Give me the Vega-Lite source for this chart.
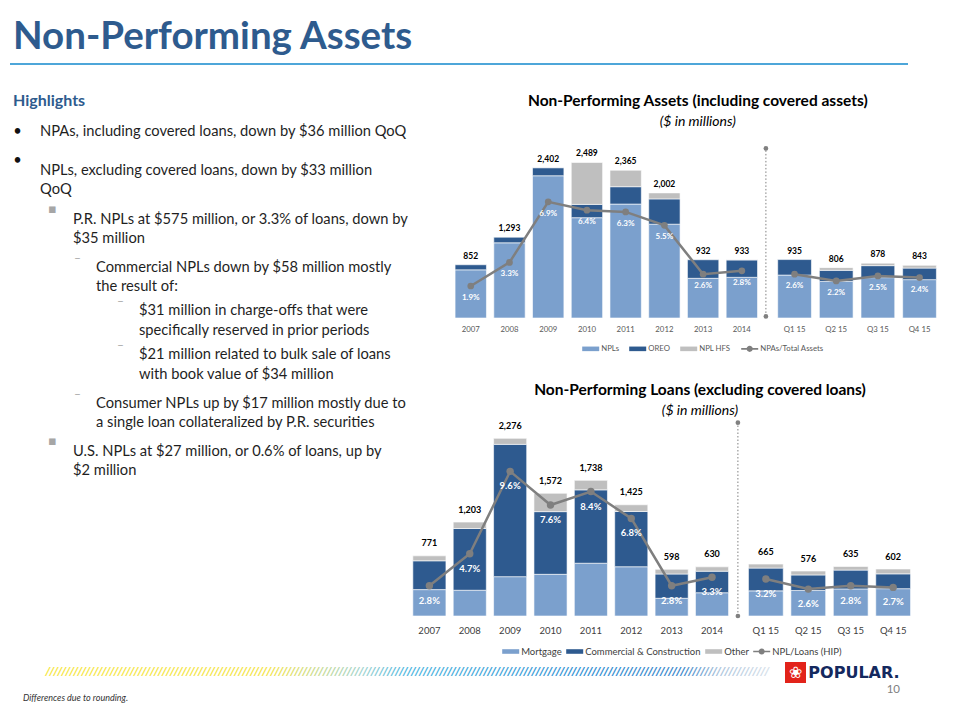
{
  "$schema": "https://vega.github.io/schema/vega-lite/v6.json",
  "background": "white",
  "padding": {"left": 10, "top": 0, "right": 5, "bottom": 0},
  "config": {
    "view": {"stroke": null},
    "font": "Lato",
    "legend": {"layout": {"bottom": {"anchor": "middle"}}}
  },
  "datasets": {
    "npa": [
      {"p": "2007", "s": "NPLs", "k": 1, "v": 771}, {"p": "2007", "s": "OREO", "k": 2, "v": 81},
      {"p": "2008", "s": "NPLs", "k": 1, "v": 1203}, {"p": "2008", "s": "OREO", "k": 2, "v": 90},
      {"p": "2009", "s": "NPLs", "k": 1, "v": 2276}, {"p": "2009", "s": "OREO", "k": 2, "v": 126},
      {"p": "2010", "s": "NPLs", "k": 1, "v": 1605}, {"p": "2010", "s": "OREO", "k": 2, "v": 213}, {"p": "2010", "s": "NPL HFS", "k": 3, "v": 671},
      {"p": "2011", "s": "NPLs", "k": 1, "v": 1823}, {"p": "2011", "s": "OREO", "k": 2, "v": 278}, {"p": "2011", "s": "NPL HFS", "k": 3, "v": 264},
      {"p": "2012", "s": "NPLs", "k": 1, "v": 1501}, {"p": "2012", "s": "OREO", "k": 2, "v": 405}, {"p": "2012", "s": "NPL HFS", "k": 3, "v": 96},
      {"p": "2013", "s": "NPLs", "k": 1, "v": 635}, {"p": "2013", "s": "OREO", "k": 2, "v": 297},
      {"p": "2014", "s": "NPLs", "k": 1, "v": 651}, {"p": "2014", "s": "OREO", "k": 2, "v": 279}, {"p": "2014", "s": "NPL HFS", "k": 3, "v": 3},
      {"p": "Q1 15", "s": "NPLs", "k": 1, "v": 687}, {"p": "Q1 15", "s": "OREO", "k": 2, "v": 248},
      {"p": "Q2 15", "s": "NPLs", "k": 1, "v": 585}, {"p": "Q2 15", "s": "OREO", "k": 2, "v": 178}, {"p": "Q2 15", "s": "NPL HFS", "k": 3, "v": 43},
      {"p": "Q3 15", "s": "NPLs", "k": 1, "v": 646}, {"p": "Q3 15", "s": "OREO", "k": 2, "v": 192}, {"p": "Q3 15", "s": "NPL HFS", "k": 3, "v": 40},
      {"p": "Q4 15", "s": "NPLs", "k": 1, "v": 614}, {"p": "Q4 15", "s": "OREO", "k": 2, "v": 185}, {"p": "Q4 15", "s": "NPL HFS", "k": 3, "v": 44}
    ],
    "npaPct": [
      {"p": "2007", "pct": 0.019}, {"p": "2008", "pct": 0.033}, {"p": "2009", "pct": 0.069}, {"p": "2010", "pct": 0.064},
      {"p": "2011", "pct": 0.063}, {"p": "2012", "pct": 0.055}, {"p": "2013", "pct": 0.026}, {"p": "2014", "pct": 0.028},
      {"p": "Q1 15", "pct": 0.026}, {"p": "Q2 15", "pct": 0.022}, {"p": "Q3 15", "pct": 0.025}, {"p": "Q4 15", "pct": 0.024}
    ],
    "npl": [
      {"p": "2007", "s": "Mortgage", "k": 1, "v": 338}, {"p": "2007", "s": "Commercial & Construction", "k": 2, "v": 369}, {"p": "2007", "s": "Other", "k": 3, "v": 64},
      {"p": "2008", "s": "Mortgage", "k": 1, "v": 330}, {"p": "2008", "s": "Commercial & Construction", "k": 2, "v": 791}, {"p": "2008", "s": "Other", "k": 3, "v": 82},
      {"p": "2009", "s": "Mortgage", "k": 1, "v": 504}, {"p": "2009", "s": "Commercial & Construction", "k": 2, "v": 1695}, {"p": "2009", "s": "Other", "k": 3, "v": 77},
      {"p": "2010", "s": "Mortgage", "k": 1, "v": 534}, {"p": "2010", "s": "Commercial & Construction", "k": 2, "v": 803}, {"p": "2010", "s": "Other", "k": 3, "v": 235},
      {"p": "2011", "s": "Mortgage", "k": 1, "v": 676}, {"p": "2011", "s": "Commercial & Construction", "k": 2, "v": 940}, {"p": "2011", "s": "Other", "k": 3, "v": 122},
      {"p": "2012", "s": "Mortgage", "k": 1, "v": 631}, {"p": "2012", "s": "Commercial & Construction", "k": 2, "v": 708}, {"p": "2012", "s": "Other", "k": 3, "v": 86},
      {"p": "2013", "s": "Mortgage", "k": 1, "v": 227}, {"p": "2013", "s": "Commercial & Construction", "k": 2, "v": 311}, {"p": "2013", "s": "Other", "k": 3, "v": 60},
      {"p": "2014", "s": "Mortgage", "k": 1, "v": 298}, {"p": "2014", "s": "Commercial & Construction", "k": 2, "v": 276}, {"p": "2014", "s": "Other", "k": 3, "v": 56},
      {"p": "Q1 15", "s": "Mortgage", "k": 1, "v": 322}, {"p": "Q1 15", "s": "Commercial & Construction", "k": 2, "v": 292}, {"p": "Q1 15", "s": "Other", "k": 3, "v": 51},
      {"p": "Q2 15", "s": "Mortgage", "k": 1, "v": 327}, {"p": "Q2 15", "s": "Commercial & Construction", "k": 2, "v": 199}, {"p": "Q2 15", "s": "Other", "k": 3, "v": 50},
      {"p": "Q3 15", "s": "Mortgage", "k": 1, "v": 347}, {"p": "Q3 15", "s": "Commercial & Construction", "k": 2, "v": 241}, {"p": "Q3 15", "s": "Other", "k": 3, "v": 47},
      {"p": "Q4 15", "s": "Mortgage", "k": 1, "v": 350}, {"p": "Q4 15", "s": "Commercial & Construction", "k": 2, "v": 190}, {"p": "Q4 15", "s": "Other", "k": 3, "v": 62}
    ],
    "nplPct": [
      {"p": "2007", "pct": 0.028}, {"p": "2008", "pct": 0.047}, {"p": "2009", "pct": 0.096}, {"p": "2010", "pct": 0.076},
      {"p": "2011", "pct": 0.084}, {"p": "2012", "pct": 0.068}, {"p": "2013", "pct": 0.028}, {"p": "2014", "pct": 0.033},
      {"p": "Q1 15", "pct": 0.032}, {"p": "Q2 15", "pct": 0.026}, {"p": "Q3 15", "pct": 0.028}, {"p": "Q4 15", "pct": 0.027}
    ]
  },
  "bounds": "flush",
  "spacing": 662,
  "vconcat": [
    {
      "bounds": "flush",
      "spacing": 23,
      "vconcat": [
        {
          "width": 2, "height": 40,
          "data": {"values": [{}]},
          "layer": [
            {"mark": {"type": "rect", "color": "#FFFFFF"}, "encoding": {}},
            {"mark": {"type": "text", "text": "Non-Performing Assets", "align": "left", "baseline": "alphabetic", "dx": 2, "dy": 28.5, "font": "Lato", "fontSize": 38.5, "fontWeight": "bold", "color": "#2E5B8E"}, "encoding": {}}
          ]
        },
        {
          "width": 898, "height": 2,
          "data": {"values": [{}]},
          "mark": {"type": "rect", "color": "#4DA6D9"},
          "encoding": {}
        },
        {
          "bounds": "flush",
          "spacing": 399.2,
          "hconcat": [
            {
              "bounds": "flush",
              "spacing": 0,
              "vconcat": [
                {
                  "width": 2, "height": 26,
                  "data": {"values": [{"t": "Highlights"}]},
                  "mark": {"type": "text", "align": "left", "baseline": "middle", "dx": 2, "fontSize": 16, "fontWeight": "bold", "color": "#2E5B8E"},
                  "encoding": {"text": {"field": "t"}}
                },
                {
                  "width": 2, "height": 36,
                  "data": {"values": [{"t": "NPAs, including covered loans, down by $36 million QoQ"}]},
                  "layer": [
                    {"mark": {"type": "text", "text": "•", "align": "center", "baseline": "middle", "dx": 6.5, "fontSize": 14.7, "color": "#111111"}, "encoding": {}},
                    {"mark": {"type": "text", "align": "left", "baseline": "middle", "dx": 29, "fontSize": 14.7, "color": "#1F1F1F"}, "encoding": {"text": {"field": "t"}}}
                  ]
                },
                {
                  "width": 2, "height": 41,
                  "data": {"values": [{"t": ["NPLs, excluding  covered  loans, down by $33 million", "QoQ"]}]},
                  "layer": [
                    {"mark": {"type": "text", "text": "•", "align": "center", "baseline": "middle", "dx": 6.5, "dy": -9.75, "fontSize": 14.7, "color": "#111111"}, "encoding": {}},
                    {"mark": {"type": "text", "align": "left", "baseline": "middle", "dx": 29, "fontSize": 14.7, "lineHeight": 19.5, "color": "#1F1F1F"}, "encoding": {"text": {"field": "t"}}}
                  ]
                },
                {
                  "width": 2, "height": 57,
                  "data": {"values": [{"t": ["P.R. NPLs at $575 million, or 3.3% of loans, down by", "$35 million"]}]},
                  "layer": [
                    {"mark": {"type": "text", "text": "▪", "align": "center", "baseline": "middle", "dx": 41.5, "dy": -10.5, "font": "DejaVu Sans", "fontSize": 13, "color": "#A6A6A6"}, "encoding": {}},
                    {"mark": {"type": "text", "align": "left", "baseline": "middle", "dx": 62, "fontSize": 14.7, "lineHeight": 19.5, "color": "#1F1F1F"}, "encoding": {"text": {"field": "t"}}}
                  ]
                },
                {
                  "width": 2, "height": 39,
                  "data": {"values": [{"t": ["Commercial NPLs down by $58 million mostly", "the result of:"]}]},
                  "layer": [
                    {"mark": {"type": "text", "text": "–", "align": "center", "baseline": "middle", "dx": 66.5, "dy": -9.75, "fontSize": 12, "color": "#A6A6A6"}, "encoding": {}},
                    {"mark": {"type": "text", "align": "left", "baseline": "middle", "dx": 85, "fontSize": 14.7, "lineHeight": 19.5, "color": "#1F1F1F"}, "encoding": {"text": {"field": "t"}}}
                  ]
                },
                {
                  "width": 2, "height": 48,
                  "data": {"values": [{"t": ["$31 million in charge-offs that were", "specifically reserved in prior periods"]}]},
                  "layer": [
                    {"mark": {"type": "text", "text": "–", "align": "center", "baseline": "middle", "dx": 109.5, "dy": -9.75, "fontSize": 12, "color": "#A6A6A6"}, "encoding": {}},
                    {"mark": {"type": "text", "align": "left", "baseline": "middle", "dx": 128, "fontSize": 14.7, "lineHeight": 19.5, "color": "#1F1F1F"}, "encoding": {"text": {"field": "t"}}}
                  ]
                },
                {
                  "width": 2, "height": 40,
                  "data": {"values": [{"t": ["$21 million related to bulk sale of loans", "with book value of $34 million"]}]},
                  "layer": [
                    {"mark": {"type": "text", "text": "–", "align": "center", "baseline": "middle", "dx": 109.5, "dy": -9.75, "fontSize": 12, "color": "#A6A6A6"}, "encoding": {}},
                    {"mark": {"type": "text", "align": "left", "baseline": "middle", "dx": 128, "fontSize": 14.7, "lineHeight": 19.5, "color": "#1F1F1F"}, "encoding": {"text": {"field": "t"}}}
                  ]
                },
                {
                  "width": 2, "height": 57,
                  "data": {"values": [{"t": ["Consumer NPLs up by $17 million mostly due to", "a single loan collateralized by P.R. securities"]}]},
                  "layer": [
                    {"mark": {"type": "text", "text": "–", "align": "center", "baseline": "middle", "dx": 66.5, "dy": -9.75, "fontSize": 12, "color": "#A6A6A6"}, "encoding": {}},
                    {"mark": {"type": "text", "align": "left", "baseline": "middle", "dx": 85, "fontSize": 14.7, "lineHeight": 19.5, "color": "#1F1F1F"}, "encoding": {"text": {"field": "t"}}}
                  ]
                },
                {
                  "width": 2, "height": 39,
                  "data": {"values": [{"t": ["U.S. NPLs at $27 million, or 0.6% of loans, up by", "$2 million"]}]},
                  "layer": [
                    {"mark": {"type": "text", "text": "▪", "align": "center", "baseline": "middle", "dx": 41.5, "dy": -10.5, "font": "DejaVu Sans", "fontSize": 13, "color": "#A6A6A6"}, "encoding": {}},
                    {"mark": {"type": "text", "align": "left", "baseline": "middle", "dx": 62, "fontSize": 14.7, "lineHeight": 19.5, "color": "#1F1F1F"}, "encoding": {"text": {"field": "t"}}}
                  ]
                }
              ]
            },
            {
              "bounds": "flush",
              "spacing": 0,
              "resolve": {"scale": {"color": "independent"}, "legend": {"color": "independent"}},
              "vconcat": [
                {"width": 1, "height": 69.7, "data": {"values": []}, "mark": "point", "encoding": {}},
                {
                  "bounds": "flush",
                  "spacing": 0,
                  "resolve": {"scale": {"color": "independent"}, "legend": {"color": "independent"}},
                  "hconcat": [
                    {"width": 41.2, "height": 1, "data": {"values": []}, "mark": "point", "encoding": {}},
                    {
                      "title": {"text": "Non-Performing Assets (including covered assets)", "subtitle": "($ in millions)", "anchor": "middle", "frame": "group", "dx": 246.6, "font": "Lato", "fontSize": 15.5, "fontWeight": "bold", "color": "#000000", "subtitleFont": "Lato", "subtitleFontSize": 14, "subtitleFontStyle": "italic", "subtitleColor": "#000000", "subtitlePadding": 6, "offset": 17},
                      "bounds": "flush",
                      "spacing": 0,
                      "hconcat": [
                        {
                          "width": 310.2, "height": 160,
                          "resolve": {"scale": {"y": "independent"}},
                          "layer": [
                            {
                              "data": {"name": "npa"},
                              "transform": [{"filter": {"field": "p", "oneOf": ["2007", "2008", "2009", "2010", "2011", "2012", "2013", "2014"]}}],
                              "mark": {"type": "bar", "stroke": "#ffffff", "strokeWidth": 0.6},
                              "encoding": {
                                "x": {"field": "p", "type": "nominal", "scale": {"domain": ["2007", "2008", "2009", "2010", "2011", "2012", "2013", "2014"], "paddingInner": 0.19, "paddingOuter": 0.1}, "axis": {"title": null, "domain": false, "ticks": false, "labelAngle": 0, "labelPadding": 7, "labelFontSize": 7.8, "labelColor": "#595959", "labelFont": "Lato"}},
                                "y": {"field": "v", "type": "quantitative", "stack": "zero", "scale": {"domain": [0, 2560], "nice": false}, "axis": null},
                                "color": {
                                  "field": "s", "type": "nominal",
                                  "scale": {"domain": ["NPLs", "OREO", "NPL HFS", "NPAs/Total Assets"], "range": ["#7BA0CD", "#2E5A8F", "#BFBFBF", "#7F7F7F"]},
                                  "legend": {
                                    "title": " ", "titleOrient": "left", "titlePadding": 12, "titleFontSize": 6,
                                    "orient": "bottom", "direction": "horizontal", "offset": 7, "padding": 0,
                                    "labelFont": "Lato", "labelFontSize": 7.8, "labelColor": "#595959", "labelOffset": 2, "columnPadding": 10,
                                    "symbolSize": 289, "symbolStrokeWidth": 0,
                                    "symbolType": {"expr": "indexof(datum.value, '/') >= 0 ? 'M-1,-0.1H1V0.1H-1Z M0.36,0A0.36,0.36,0,1,1,-0.36,0A0.36,0.36,0,1,1,0.36,0Z' : 'M-1,-0.27H1V0.27H-1Z'"}
                                  }
                                },
                                "order": {"field": "k", "type": "quantitative", "sort": "ascending"}
                              }
                            },
                            {
                              "data": {"name": "npa"},
                              "transform": [{"filter": {"field": "p", "oneOf": ["2007", "2008", "2009", "2010", "2011", "2012", "2013", "2014"]}}],
                              "mark": {"type": "text", "fontWeight": "bold", "fontSize": 8.5, "dy": -9, "color": "#000000", "baseline": "middle"},
                              "encoding": {
                                "x": {"field": "p", "type": "nominal"},
                                "y": {"aggregate": "sum", "field": "v", "type": "quantitative", "scale": {"domain": [0, 2560], "nice": false}, "axis": null},
                                "text": {"aggregate": "sum", "field": "v", "type": "quantitative", "format": ","}
                              }
                            },
                            {
                              "data": {"name": "npaPct"},
                              "transform": [{"filter": {"field": "p", "oneOf": ["2007", "2008", "2009", "2010", "2011", "2012", "2013", "2014"]}}],
                              "mark": {"type": "line", "strokeWidth": 2.5, "color": "#7F7F7F"},
                              "encoding": {
                                "x": {"field": "p", "type": "nominal"},
                                "y": {"field": "pct", "type": "quantitative", "scale": {"domain": [0, 0.095], "nice": false}, "axis": null}
                              }
                            },
                            {
                              "data": {"name": "npaPct"},
                              "transform": [{"filter": {"field": "p", "oneOf": ["2007", "2008", "2009", "2010", "2011", "2012", "2013", "2014"]}}],
                              "mark": {"type": "point", "filled": true, "size": 45, "opacity": 1, "color": "#7F7F7F"},
                              "encoding": {
                                "x": {"field": "p", "type": "nominal"},
                                "y": {"field": "pct", "type": "quantitative", "scale": {"domain": [0, 0.095], "nice": false}, "axis": null}
                              }
                            },
                            {
                              "data": {"name": "npaPct"},
                              "transform": [{"filter": {"field": "p", "oneOf": ["2007", "2008", "2009", "2010", "2011", "2012", "2013", "2014"]}}],
                              "mark": {"type": "text", "fontWeight": "bold", "fontSize": 8, "dy": 12, "color": "#FFFFFF", "baseline": "middle"},
                              "encoding": {
                                "x": {"field": "p", "type": "nominal"},
                                "y": {"field": "pct", "type": "quantitative", "scale": {"domain": [0, 0.095], "nice": false}, "axis": null},
                                "text": {"field": "pct", "type": "quantitative", "format": ".1%"}
                              }
                            }
                          ]
                        },
                        {
                          "width": 7.4, "height": 160,
                          "data": {"values": [{}]},
                          "layer": [
                            {"mark": {"type": "rule", "strokeDash": [1.5, 2], "color": "#808080", "strokeWidth": 1}, "encoding": {"y": {"datum": 0.01, "type": "quantitative", "scale": {"domain": [0, 1], "nice": false}, "axis": null}, "y2": {"datum": 1.06}}},
                            {"mark": {"type": "point", "filled": true, "size": 22, "color": "#808080", "opacity": 1}, "encoding": {"y": {"datum": 0.01, "type": "quantitative"}}},
                            {"mark": {"type": "point", "filled": true, "size": 22, "color": "#808080", "opacity": 1}, "encoding": {"y": {"datum": 1.06, "type": "quantitative"}}}
                          ]
                        },
                        {
                          "width": 173.7, "height": 160,
                          "resolve": {"scale": {"y": "independent"}},
                          "layer": [
                            {
                              "data": {"name": "npa"},
                              "transform": [{"filter": {"field": "p", "oneOf": ["Q1 15", "Q2 15", "Q3 15", "Q4 15"]}}],
                              "mark": {"type": "bar", "stroke": "#ffffff", "strokeWidth": 0.6},
                              "encoding": {
                                "x": {"field": "p", "type": "nominal", "scale": {"domain": ["Q1 15", "Q2 15", "Q3 15", "Q4 15"], "paddingInner": 0.19, "paddingOuter": 0.18}, "axis": {"title": null, "domain": false, "ticks": false, "labelAngle": 0, "labelPadding": 7, "labelFontSize": 7.8, "labelColor": "#595959", "labelFont": "Lato"}},
                                "y": {"field": "v", "type": "quantitative", "stack": "zero", "scale": {"domain": [0, 2560], "nice": false}, "axis": null},
                                "color": {
                                  "field": "s", "type": "nominal",
                                  "legend": {
                                    "title": " ", "titleOrient": "left", "titlePadding": 12, "titleFontSize": 6,
                                    "orient": "bottom", "direction": "horizontal", "offset": 7, "padding": 0,
                                    "labelFont": "Lato", "labelFontSize": 7.8, "labelColor": "#595959", "labelOffset": 2, "columnPadding": 10,
                                    "symbolSize": 289, "symbolStrokeWidth": 0,
                                    "symbolType": {"expr": "indexof(datum.value, '/') >= 0 ? 'M-1,-0.1H1V0.1H-1Z M0.36,0A0.36,0.36,0,1,1,-0.36,0A0.36,0.36,0,1,1,0.36,0Z' : 'M-1,-0.27H1V0.27H-1Z'"}
                                  }
                                },
                                "order": {"field": "k", "type": "quantitative", "sort": "ascending"}
                              }
                            },
                            {
                              "data": {"name": "npa"},
                              "transform": [{"filter": {"field": "p", "oneOf": ["Q1 15", "Q2 15", "Q3 15", "Q4 15"]}}],
                              "mark": {"type": "text", "fontWeight": "bold", "fontSize": 8.5, "dy": -9, "color": "#000000", "baseline": "middle"},
                              "encoding": {
                                "x": {"field": "p", "type": "nominal"},
                                "y": {"aggregate": "sum", "field": "v", "type": "quantitative", "scale": {"domain": [0, 2560], "nice": false}, "axis": null},
                                "text": {"aggregate": "sum", "field": "v", "type": "quantitative", "format": ","}
                              }
                            },
                            {
                              "data": {"name": "npaPct"},
                              "transform": [{"filter": {"field": "p", "oneOf": ["Q1 15", "Q2 15", "Q3 15", "Q4 15"]}}],
                              "mark": {"type": "line", "strokeWidth": 2.5, "color": "#7F7F7F"},
                              "encoding": {
                                "x": {"field": "p", "type": "nominal"},
                                "y": {"field": "pct", "type": "quantitative", "scale": {"domain": [0, 0.095], "nice": false}, "axis": null}
                              }
                            },
                            {
                              "data": {"name": "npaPct"},
                              "transform": [{"filter": {"field": "p", "oneOf": ["Q1 15", "Q2 15", "Q3 15", "Q4 15"]}}],
                              "mark": {"type": "point", "filled": true, "size": 45, "opacity": 1, "color": "#7F7F7F"},
                              "encoding": {
                                "x": {"field": "p", "type": "nominal"},
                                "y": {"field": "pct", "type": "quantitative", "scale": {"domain": [0, 0.095], "nice": false}, "axis": null}
                              }
                            },
                            {
                              "data": {"name": "npaPct"},
                              "transform": [{"filter": {"field": "p", "oneOf": ["Q1 15", "Q2 15", "Q3 15", "Q4 15"]}}],
                              "mark": {"type": "text", "fontWeight": "bold", "fontSize": 8, "dy": 12, "color": "#FFFFFF", "baseline": "middle"},
                              "encoding": {
                                "x": {"field": "p", "type": "nominal"},
                                "y": {"field": "pct", "type": "quantitative", "scale": {"domain": [0, 0.095], "nice": false}, "axis": null},
                                "text": {"field": "pct", "type": "quantitative", "format": ".1%"}
                              }
                            }
                          ]
                        }
                      ]
                    }
                  ]
                },
                {"width": 1, "height": 272.3, "data": {"values": []}, "mark": "point", "encoding": {}},
                {
                  "title": {"text": "Non-Performing Loans (excluding covered loans)", "subtitle": "($ in millions)", "anchor": "middle", "frame": "group", "dx": 290.8, "font": "Lato", "fontSize": 15.5, "fontWeight": "bold", "color": "#000000", "subtitleFont": "Lato", "subtitleFontSize": 14, "subtitleFontStyle": "italic", "subtitleColor": "#000000", "subtitlePadding": 6, "offset": 2},
                  "bounds": "flush",
                  "spacing": 0,
                  "hconcat": [
                    {
                      "width": 323, "height": 185,
                      "resolve": {"scale": {"y": "independent"}},
                      "layer": [
                        {
                          "data": {"name": "npl"},
                          "transform": [{"filter": {"field": "p", "oneOf": ["2007", "2008", "2009", "2010", "2011", "2012", "2013", "2014"]}}],
                          "mark": {"type": "bar", "stroke": "#ffffff", "strokeWidth": 0.6},
                          "encoding": {
                            "x": {"field": "p", "type": "nominal", "scale": {"domain": ["2007", "2008", "2009", "2010", "2011", "2012", "2013", "2014"], "paddingInner": 0.18, "paddingOuter": 0.09}, "axis": {"title": null, "domain": false, "ticks": false, "labelAngle": 0, "labelPadding": 9, "labelFontSize": 9.5, "labelColor": "#404040", "labelFont": "Lato"}},
                            "y": {"field": "v", "type": "quantitative", "stack": "zero", "scale": {"domain": [0, 2370], "nice": false}, "axis": null},
                            "color": {
                              "field": "s", "type": "nominal",
                              "scale": {"domain": ["Mortgage", "Commercial & Construction", "Other", "NPL/Loans (HIP)"], "range": ["#7BA0CD", "#2E5A8F", "#BFBFBF", "#7F7F7F"]},
                              "legend": {
                                "title": " ", "titleOrient": "left", "titlePadding": 20, "titleFontSize": 6,
                                "orient": "bottom", "direction": "horizontal", "offset": 8, "padding": 0,
                                "labelFont": "Lato", "labelFontSize": 9.5, "labelColor": "#404040", "labelOffset": 2, "columnPadding": 4,
                                "symbolSize": 289, "symbolStrokeWidth": 0,
                                "symbolType": {"expr": "indexof(datum.value, '/') >= 0 ? 'M-1,-0.1H1V0.1H-1Z M0.36,0A0.36,0.36,0,1,1,-0.36,0A0.36,0.36,0,1,1,0.36,0Z' : 'M-1,-0.27H1V0.27H-1Z'"}
                              }
                            },
                            "order": {"field": "k", "type": "quantitative", "sort": "ascending"}
                          }
                        },
                        {
                          "data": {"name": "npl"},
                          "transform": [{"filter": {"field": "p", "oneOf": ["2007", "2008", "2009", "2010", "2011", "2012", "2013", "2014"]}}],
                          "mark": {"type": "text", "fontWeight": "bold", "fontSize": 9, "dy": -12.5, "color": "#000000", "baseline": "middle"},
                          "encoding": {
                            "x": {"field": "p", "type": "nominal"},
                            "y": {"aggregate": "sum", "field": "v", "type": "quantitative", "scale": {"domain": [0, 2370], "nice": false}, "axis": null},
                            "text": {"aggregate": "sum", "field": "v", "type": "quantitative", "format": ","}
                          }
                        },
                        {
                          "data": {"name": "nplPct"},
                          "transform": [{"filter": {"field": "p", "oneOf": ["2007", "2008", "2009", "2010", "2011", "2012", "2013", "2014"]}}],
                          "mark": {"type": "line", "strokeWidth": 2.5, "color": "#7F7F7F"},
                          "encoding": {
                            "x": {"field": "p", "type": "nominal"},
                            "y": {"field": "pct", "type": "quantitative", "scale": {"domain": [0.01, 0.12], "nice": false, "zero": false}, "axis": null}
                          }
                        },
                        {
                          "data": {"name": "nplPct"},
                          "transform": [{"filter": {"field": "p", "oneOf": ["2007", "2008", "2009", "2010", "2011", "2012", "2013", "2014"]}}],
                          "mark": {"type": "point", "filled": true, "size": 55, "opacity": 1, "color": "#7F7F7F"},
                          "encoding": {
                            "x": {"field": "p", "type": "nominal"},
                            "y": {"field": "pct", "type": "quantitative", "scale": {"domain": [0.01, 0.12], "nice": false, "zero": false}, "axis": null}
                          }
                        },
                        {
                          "data": {"name": "nplPct"},
                          "transform": [{"filter": {"field": "p", "oneOf": ["2007", "2008", "2009", "2010", "2011", "2012", "2013", "2014"]}}],
                          "mark": {"type": "text", "fontWeight": "bold", "fontSize": 9.5, "dy": 15, "color": "#FFFFFF", "baseline": "middle"},
                          "encoding": {
                            "x": {"field": "p", "type": "nominal"},
                            "y": {"field": "pct", "type": "quantitative", "scale": {"domain": [0.01, 0.12], "nice": false, "zero": false}, "axis": null},
                            "text": {"field": "pct", "type": "quantitative", "format": ".1%"}
                          }
                        }
                      ]
                    },
                    {
                      "width": 11.4, "height": 185,
                      "data": {"values": [{}]},
                      "layer": [
                        {"mark": {"type": "rule", "strokeDash": [1.5, 2], "color": "#808080", "strokeWidth": 1}, "encoding": {"y": {"datum": 0, "type": "quantitative", "scale": {"domain": [0, 1], "nice": false}, "axis": null}, "y2": {"datum": 1.045}}},
                        {"mark": {"type": "point", "filled": true, "size": 22, "color": "#808080", "opacity": 1}, "encoding": {"y": {"datum": 0, "type": "quantitative"}}},
                        {"mark": {"type": "point", "filled": true, "size": 22, "color": "#808080", "opacity": 1}, "encoding": {"y": {"datum": 1.045, "type": "quantitative"}}}
                      ]
                    },
                    {
                      "width": 170.6, "height": 185,
                      "resolve": {"scale": {"y": "independent"}},
                      "layer": [
                        {
                          "data": {"name": "npl"},
                          "transform": [{"filter": {"field": "p", "oneOf": ["Q1 15", "Q2 15", "Q3 15", "Q4 15"]}}],
                          "mark": {"type": "bar", "stroke": "#ffffff", "strokeWidth": 0.6},
                          "encoding": {
                            "x": {"field": "p", "type": "nominal", "scale": {"domain": ["Q1 15", "Q2 15", "Q3 15", "Q4 15"], "paddingInner": 0.18, "paddingOuter": 0.1}, "axis": {"title": null, "domain": false, "ticks": false, "labelAngle": 0, "labelPadding": 9, "labelFontSize": 9.5, "labelColor": "#404040", "labelFont": "Lato"}},
                            "y": {"field": "v", "type": "quantitative", "stack": "zero", "scale": {"domain": [0, 2370], "nice": false}, "axis": null},
                            "color": {
                              "field": "s", "type": "nominal",
                              "legend": {
                                "title": " ", "titleOrient": "left", "titlePadding": 20, "titleFontSize": 6,
                                "orient": "bottom", "direction": "horizontal", "offset": 8, "padding": 0,
                                "labelFont": "Lato", "labelFontSize": 9.5, "labelColor": "#404040", "labelOffset": 2, "columnPadding": 4,
                                "symbolSize": 289, "symbolStrokeWidth": 0,
                                "symbolType": {"expr": "indexof(datum.value, '/') >= 0 ? 'M-1,-0.1H1V0.1H-1Z M0.36,0A0.36,0.36,0,1,1,-0.36,0A0.36,0.36,0,1,1,0.36,0Z' : 'M-1,-0.27H1V0.27H-1Z'"}
                              }
                            },
                            "order": {"field": "k", "type": "quantitative", "sort": "ascending"}
                          }
                        },
                        {
                          "data": {"name": "npl"},
                          "transform": [{"filter": {"field": "p", "oneOf": ["Q1 15", "Q2 15", "Q3 15", "Q4 15"]}}],
                          "mark": {"type": "text", "fontWeight": "bold", "fontSize": 9, "dy": -12.5, "color": "#000000", "baseline": "middle"},
                          "encoding": {
                            "x": {"field": "p", "type": "nominal"},
                            "y": {"aggregate": "sum", "field": "v", "type": "quantitative", "scale": {"domain": [0, 2370], "nice": false}, "axis": null},
                            "text": {"aggregate": "sum", "field": "v", "type": "quantitative", "format": ","}
                          }
                        },
                        {
                          "data": {"name": "nplPct"},
                          "transform": [{"filter": {"field": "p", "oneOf": ["Q1 15", "Q2 15", "Q3 15", "Q4 15"]}}],
                          "mark": {"type": "line", "strokeWidth": 2.5, "color": "#7F7F7F"},
                          "encoding": {
                            "x": {"field": "p", "type": "nominal"},
                            "y": {"field": "pct", "type": "quantitative", "scale": {"domain": [0.01, 0.12], "nice": false, "zero": false}, "axis": null}
                          }
                        },
                        {
                          "data": {"name": "nplPct"},
                          "transform": [{"filter": {"field": "p", "oneOf": ["Q1 15", "Q2 15", "Q3 15", "Q4 15"]}}],
                          "mark": {"type": "point", "filled": true, "size": 55, "opacity": 1, "color": "#7F7F7F"},
                          "encoding": {
                            "x": {"field": "p", "type": "nominal"},
                            "y": {"field": "pct", "type": "quantitative", "scale": {"domain": [0.01, 0.12], "nice": false, "zero": false}, "axis": null}
                          }
                        },
                        {
                          "data": {"name": "nplPct"},
                          "transform": [{"filter": {"field": "p", "oneOf": ["Q1 15", "Q2 15", "Q3 15", "Q4 15"]}}],
                          "mark": {"type": "text", "fontWeight": "bold", "fontSize": 9.5, "dy": 15, "color": "#FFFFFF", "baseline": "middle"},
                          "encoding": {
                            "x": {"field": "p", "type": "nominal"},
                            "y": {"field": "pct", "type": "quantitative", "scale": {"domain": [0.01, 0.12], "nice": false, "zero": false}, "axis": null},
                            "text": {"field": "pct", "type": "quantitative", "format": ".1%"}
                          }
                        }
                      ]
                    }
                  ]
                }
              ]
            }
          ]
        }
      ]
    },
    {
      "bounds": "flush",
      "spacing": 9,
      "hconcat": [
        {
          "width": 26, "height": 72,
          "data": {"values": [{}]},
          "mark": {"type": "text", "text": "Differences due to rounding.", "align": "left", "baseline": "middle", "fontStyle": "italic", "fontSize": 9, "color": "#333333", "font": "Lato"},
          "encoding": {}
        },
        {
          "bounds": "flush",
          "spacing": 15,
          "hconcat": [
            {
              "width": 725, "height": 20,
              "data": {"values": [{}]},
              "mark": {
                "type": "text",
                "text": "////////////////////////////////////////////////////////////////////////////////////////////////////////////////////////////////////////////////////////////////////////////////////",
                "align": "center", "baseline": "middle", "font": "DejaVu Sans", "fontSize": 11, "fontWeight": "bold", "fontStyle": "italic",
                "fill": {"gradient": "linear", "x1": 0, "x2": 1, "y1": 0, "y2": 0, "stops": [
                  {"offset": 0, "color": "#F4E549"}, {"offset": 0.31, "color": "#F2E24A"}, {"offset": 0.44, "color": "#9ED3CF"},
                  {"offset": 0.5, "color": "#4DB6DE"}, {"offset": 0.75, "color": "#2F8ED0"}, {"offset": 0.88, "color": "#3A86C8"},
                  {"offset": 0.93, "color": "#A9C3DA"}, {"offset": 1, "color": "#D8E2EA"}
                ]}
              },
              "encoding": {}
            },
            {
              "bounds": "flush",
              "spacing": 2,
              "hconcat": [
                {
                  "width": 21, "height": 21,
                  "data": {"values": [{}]},
                  "layer": [
                    {"mark": {"type": "rect", "color": "#E2231A"}, "encoding": {}},
                    {"mark": {"type": "text", "text": "❀", "align": "center", "baseline": "middle", "fontSize": 16, "color": "#FFFFFF"}, "encoding": {}}
                  ]
                },
                {
                  "width": 92, "height": 21,
                  "data": {"values": [{}]},
                  "mark": {"type": "text", "text": "POPULAR.", "align": "center", "baseline": "middle", "font": "DejaVu Sans", "fontSize": 16, "fontWeight": "bold", "color": "#14295E"},
                  "encoding": {},
                  "title": {"text": "10", "orient": "bottom", "anchor": "end", "frame": "group", "font": "Lato", "fontSize": 11.5, "fontWeight": "normal", "color": "#808080", "offset": 1}
                }
              ]
            }
          ]
        }
      ]
    }
  ]
}
